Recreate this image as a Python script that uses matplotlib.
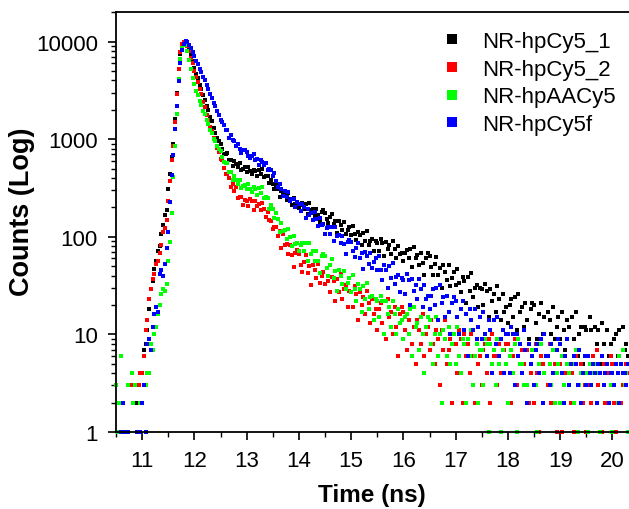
import numpy as np
import matplotlib
matplotlib.use("Agg")
import matplotlib.pyplot as plt
from matplotlib.ticker import FixedLocator, NullFormatter, LogLocator

plt.rcParams["font.family"] = ["Liberation Sans", "DejaVu Sans"]

# TCSPC channel axis (one value per channel, 30 channels per ns)
t_start_ns = 10.5
channels_per_ns = 30

series_names = ["NR-hpCy5_1", "NR-hpCy5_2", "NR-hpAACy5", "NR-hpCy5f"]
series_colors = ["#000000", "#ff0000", "#00ff00", "#0000ff"]

counts_hpCy5_1 = [
    0,0,0,0,0,0,0,0,0,0,0,0,2,0,1,
    4,7,8,11,18,29,35,47,56,72,81,108,131,168,186,
    306,441,652,884,1620,2960,5240,7460,9250,9880,9930,9360,8540,7270,6330,
    5370,4650,4190,3560,3250,2810,2530,2190,1980,1670,1550,1300,1170,1030,965,
    903,795,711,712,716,606,616,533,597,559,519,567,480,500,513,
    463,516,467,440,488,474,423,485,445,492,408,420,420,355,380,
    351,306,338,312,256,298,266,274,237,280,246,212,249,218,222,
    196,214,220,193,219,170,221,186,192,165,194,167,141,178,186,
    176,151,137,158,173,134,144,110,146,133,118,143,106,118,126,
    105,129,106,92,113,105,82,110,91,116,82,91,96,71,91,
    87,72,95,87,63,88,75,82,66,90,75,60,80,66,69,
    57,69,73,60,75,49,78,60,65,51,68,54,41,61,68,
    63,49,41,53,62,41,48,30,51,44,36,51,31,38,44,
    32,47,34,27,39,35,21,39,28,43,24,30,32,19,30,
    29,20,33,28,15,29,22,26,17,31,23,14,26,17,19,
    13,20,23,15,24,11,26,17,19,12,21,14,9,18,21,
    20,13,9,16,21,10,15,6,17,14,10,19,9,12,15,
    9,17,11,7,14,12,5,15,9,17,6,10,12,5,12,
    11,6,15,11,5,12,8,11,5,13,8,4,11,6,8,
    5,9,10,6,11,5,12,7,8,6,
]

counts_hpCy5_2 = [
    0,0,1,0,2,0,0,0,0,3,2,0,0,3,4,
    4,6,11,14,23,29,37,42,53,57,68,83,112,122,148,
    232,376,612,851,1490,2930,5270,7820,9390,9960,9710,9080,8030,6870,6010,
    5050,4360,3880,3270,2880,2420,2130,1780,1570,1330,1200,1040,955,815,745,
    620,613,505,435,444,397,323,351,297,321,251,257,256,213,239,
    233,206,244,230,189,231,209,218,189,222,192,160,180,150,145,
    120,127,126,101,114,77,107,83,85,67,82,65,49,69,73,
    67,52,44,55,65,43,50,32,52,46,38,53,34,40,44,
    33,48,35,27,39,35,22,37,27,42,23,29,32,19,28,
    27,19,31,26,14,27,20,24,16,28,21,13,23,16,18,
    11,18,21,13,22,9,23,15,17,10,19,12,6,16,19,
    17,11,7,14,18,8,12,5,14,11,8,16,6,10,12,
    7,14,8,5,11,9,3,11,7,14,5,7,9,2,8,
    8,4,11,9,2,10,6,8,4,10,6,2,8,5,6,
    3,7,8,4,9,2,10,6,6,3,8,4,0,7,8,
    8,4,2,6,9,3,6,0,7,5,3,7,2,4,6,
    2,8,4,1,6,5,0,6,3,8,2,4,5,1,5,
    5,1,6,4,0,5,2,4,1,6,3,0,5,2,3,
    1,3,5,2,6,0,7,3,4,1,5,2,0,4,6,
    5,2,1,4,6,2,3,0,5,4,
]

counts_hpAACy5 = [
    3,1,2,6,0,0,0,3,0,4,2,3,0,0,2,
    2,0,3,4,4,8,7,10,12,16,20,26,29,28,33,
    57,88,176,406,842,1830,4120,6630,8570,9510,9180,7920,6480,5230,4280,
    3640,3150,2850,2470,2260,1960,1800,1570,1440,1250,1160,1010,955,845,802,
    754,655,578,576,565,465,460,380,421,385,347,378,317,330,340,
    306,348,308,285,322,309,268,316,282,320,252,257,250,194,210,
    193,155,177,153,111,137,114,118,95,120,100,81,102,85,86,
    71,83,87,71,87,57,87,67,71,56,71,57,43,63,67,
    63,48,40,51,59,38,45,28,46,40,33,45,29,34,38,
    27,41,29,22,33,29,17,31,23,34,18,24,25,14,23,
    22,15,25,22,10,22,16,19,12,22,16,10,18,13,14,
    9,15,16,10,18,6,19,12,13,7,15,10,4,12,15,
    14,8,5,10,15,6,10,2,11,9,6,12,5,8,10,
    5,12,6,4,9,8,2,9,6,11,3,6,8,2,7,
    7,3,9,8,1,8,5,7,3,9,5,1,7,4,5,
    2,6,7,4,8,1,9,5,5,3,7,3,0,5,7,
    7,3,1,5,8,2,4,0,6,5,3,7,2,4,5,
    2,6,3,0,5,4,0,5,2,7,1,3,4,0,4,
    4,1,5,4,0,5,2,4,1,6,3,0,5,2,3,
    1,3,5,2,6,0,7,3,4,1,
]

counts_hpCy5f = [
    0,0,0,1,2,1,1,1,0,0,0,0,1,1,1,
    2,3,1,8,9,7,12,16,19,17,42,46,40,53,76,
    112,226,428,684,1260,2190,3980,6040,8170,9520,10030,9790,9180,8520,7770,
    7050,6370,5880,5270,4880,4370,4030,3580,3270,2880,2640,2350,2170,1930,1790,
    1555,1489,1406,1244,1230,1040,1110,981,954,857,885,801,725,777,774,
    744,678,637,674,700,610,626,548,617,582,538,575,485,490,483,
    423,447,376,327,344,312,259,295,258,291,232,243,245,204,229,
    215,185,217,200,157,192,167,175,147,179,153,128,154,132,134,
    108,122,127,107,125,90,126,101,105,86,103,84,67,89,93,
    89,71,62,76,86,60,68,47,70,63,53,69,48,55,60,
    46,63,46,36,51,46,30,50,38,54,33,39,41,27,38,
    36,26,42,36,20,37,28,32,23,37,29,19,32,23,25,
    18,25,29,20,30,14,32,21,24,15,25,17,10,21,24,
    22,15,10,18,22,11,16,6,18,14,11,18,9,12,15,
    9,17,10,6,14,11,4,14,8,15,6,9,11,4,10,
    10,4,12,10,3,10,6,8,4,11,7,2,8,5,6,
    3,7,8,4,9,2,10,6,6,3,8,4,0,7,9,
    8,4,2,6,9,3,5,0,6,5,3,7,2,4,6,
    3,6,4,3,5,4,2,5,4,6,3,4,5,2,4,
    4,3,5,4,2,5,4,4,3,5,
]

x_ticks = [11, 12, 13, 14, 15, 16, 17, 18, 19, 20]
y_ticks = [1, 10, 100, 1000, 10000]
y_tick_labels = ["1", "10", "100", "1000", "10000"]

W, H = 629, 510
fig = plt.figure(figsize=(W / 100, H / 100), dpi=100)
ax = fig.add_axes([116 / W, 77 / H, 522.5 / W, 420 / H])

all_counts = [counts_hpCy5_1, counts_hpCy5_2, counts_hpAACy5, counts_hpCy5f]
for name, counts, color in zip(series_names, all_counts, series_colors):
    c = np.asarray(counts, dtype=float)
    t = t_start_ns + np.arange(len(c)) / channels_per_ns
    m = c > 0
    ax.plot(t[m], c[m], ls="none", marker="s", ms=3.2, mew=0, color=color,
            label=name, clip_on=False)

ax.set_yscale("log")
ax.set_xlim(10.5, 20.5)
ax.set_ylim(1, 20100)

ax.xaxis.set_major_locator(FixedLocator(x_ticks))
ax.set_xticklabels([str(v) for v in x_ticks])
ax.xaxis.set_minor_locator(FixedLocator([v + 0.5 for v in [10] + x_ticks]))
ax.yaxis.set_major_locator(FixedLocator(y_ticks))
ax.set_yticklabels(y_tick_labels)
ax.yaxis.set_minor_locator(LogLocator(base=10, subs=np.arange(2, 10), numticks=20))
ax.yaxis.set_minor_formatter(NullFormatter())

ax.tick_params(which="major", direction="out", length=6, width=1.2, labelsize=16)
ax.tick_params(axis="x", which="major", pad=7)
ax.tick_params(axis="y", which="major", pad=7)
ax.tick_params(which="minor", direction="out", length=3.5, width=1.0)
for s in ["left", "bottom", "top"]:
    ax.spines[s].set_linewidth(1.3)
ax.spines["right"].set_visible(False)

ax.set_xlabel("Time (ns)", fontsize=17.5, fontweight="bold")
ax.xaxis.set_label_coords((372 - 116) / 522.5, (433 - 484) / 420)
ax.set_ylabel("Counts (Log)", fontsize=19.5, fontweight="bold")
ax.yaxis.set_label_coords((35 - 116) / 522.5, (433 - 212) / 420)

leg = ax.legend(loc="upper left", bbox_to_anchor=(443 / W, 1 - 32 / H),
                bbox_transform=fig.transFigure, frameon=False, fontsize=16,
                markerscale=2.2, handlelength=0.8, handletextpad=0.95,
                labelspacing=0.3, borderpad=0, borderaxespad=0)

fig.savefig("out.png", dpi=100)
